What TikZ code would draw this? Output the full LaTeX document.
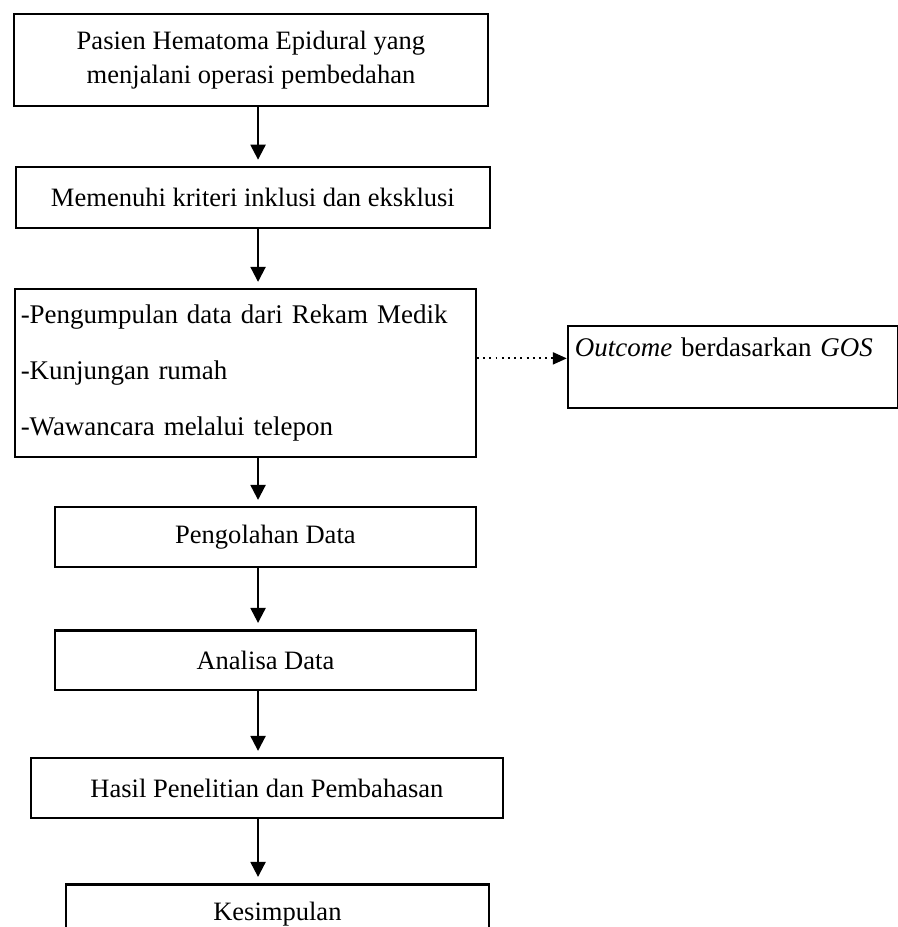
\documentclass[tikz,border=0pt]{standalone}
\usepackage{fontspec}
\setmainfont{Liberation Serif}
\usetikzlibrary{positioning,arrows.meta}

\begin{document}
\begin{tikzpicture}
 [box node/.style={draw, line width=1pt, minimum width=221.5pt, minimum height=28pt, inner sep=0pt, align=center, font=\fontsize{12.4}{15.9}\selectfont},
  list node/.style={draw, line width=1pt, inner xsep=2.7pt, inner ysep=0pt, align=left, font=\fontsize{12.6}{15.9}\selectfont},
  flow/.style={-{Triangle[width=7pt,length=7pt]}, line width=1pt, shorten >=3pt},
  dot flow/.style={-{Triangle[width=5.6pt,length=6.5pt]}, dotted, line width=0.9pt}]

\useasboundingbox (-117.3pt,28.04pt) rectangle (302.3pt,-405.2pt);

\node[box node, minimum height=43pt] (b1) at (0,0) {Pasien Hematoma Epidural yang\\menjalani operasi pembedahan};
\node[box node, minimum height=28.5pt] (b2) [below=27.6pt of b1, xshift=0.9pt] {Memenuhi kriteri inklusi dan eksklusi};
\node[list node, text width=210pt, minimum height=78.5pt] (b3) [below=27.6pt of b2, xshift=-3.5pt]
  {-Pengumpulan data dari Rekam Medik\\[10.3pt]-Kunjungan rumah\\[10.3pt]-Wawancara melalui telepon};

\node[list node, inner xsep=3.3pt, text width=147.6pt, minimum height=38.3pt] (b4) [right=42pt of b3, yshift=2.8pt]
  {\textit{Outcome} berdasarkan \textit{GOS}\\[3pt]\mbox{}};

\node[box node, minimum width=196.7pt] (b5) [below=22.4pt of b3, xshift=9.35pt] {Pengolahan Data};
\node[box node, minimum width=196.7pt] (b6) [below=28.5pt of b5] {Analisa Data};
\node[box node, minimum width=220.6pt] (b7) [below=30.8pt of b6, xshift=0.7pt] {Hasil Penelitian dan Pembahasan};
\node[box node, minimum width=197.7pt] (b8) [below=29.9pt of b7, xshift=4.9pt] {Kesimpulan};

% arrow line and dotted level
\coordinate (ax) at ([xshift=3.3pt]b1.south);
\coordinate (dl) at ([yshift=7pt]b3.east);

\path
  (b1.south -| ax) edge [flow] (b2.north -| ax)
  (b2.south -| ax) edge [flow] (b3.north -| ax)
  (b3.south -| ax) edge [flow] (b5.north -| ax)
  (b5.south -| ax) edge [flow] (b6.north -| ax)
  (b6.south -| ax) edge [flow] (b7.north -| ax)
  (b7.south -| ax) edge [flow] (b8.north -| ax)

  (dl) edge [dot flow] (b4.west |- dl);

\end{tikzpicture}
\end{document}
